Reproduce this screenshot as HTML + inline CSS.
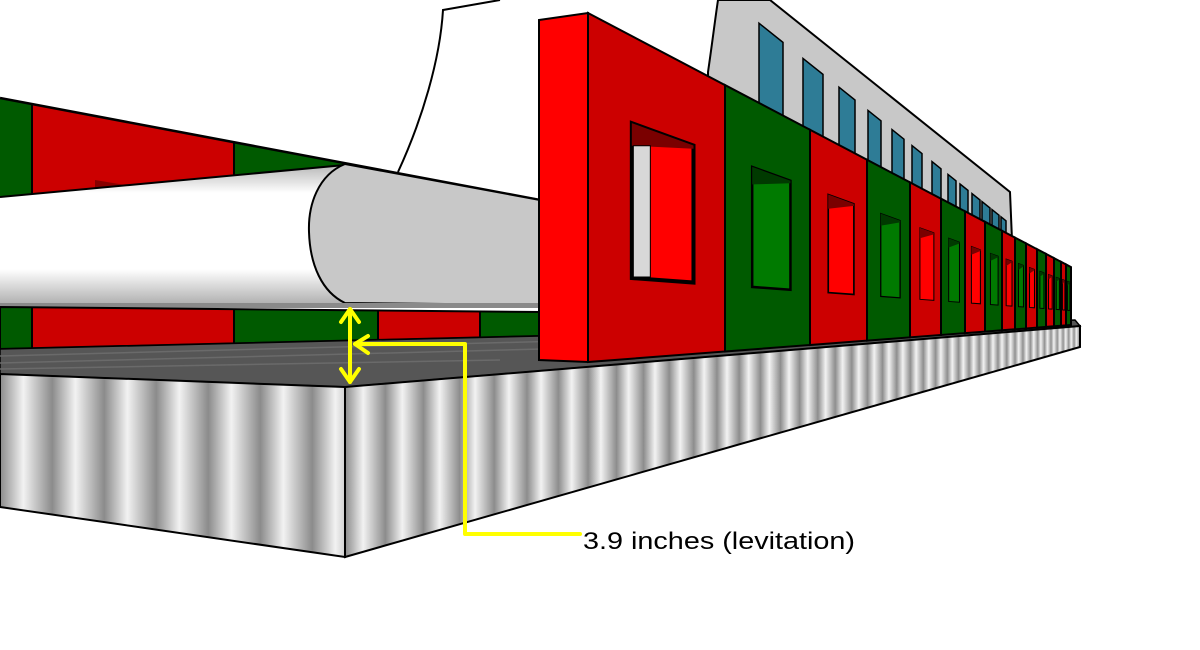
<!DOCTYPE html>
<html><head><meta charset="utf-8">
<style>html,body{margin:0;padding:0;background:#fff;width:1200px;height:650px;overflow:hidden}</style>
</head><body>
<svg id="s" xmlns="http://www.w3.org/2000/svg" width="1200" height="650" viewBox="0 0 1200 650">
<defs>
<linearGradient id="rib" x1="0" y1="0" x2="1" y2="0">
<stop offset="0" stop-color="#8a8a8a"/><stop offset="0.45" stop-color="#f2f2f2"/><stop offset="1" stop-color="#8c8c8c"/>
</linearGradient>
<pattern id="ribL" patternUnits="userSpaceOnUse" width="52" height="10"><rect width="52" height="10" fill="url(#rib)"/></pattern>
<linearGradient id="body" x1="0" y1="0" x2="0" y2="1">
<stop offset="0" stop-color="#b8b8b8"/><stop offset="0.2" stop-color="#fff"/><stop offset="0.75" stop-color="#fff"/><stop offset="1" stop-color="#b0b0b0"/>
</linearGradient>
<clipPath id="cR"><polygon points="345,387 1080,326 1080,347 345,557"/></clipPath>
<clipPath id="cU"><polygon points="0,98 344,163 344,165 0,197"/></clipPath>
<clipPath id="cLo"><polygon points="0,307 540,312 540,336 0,349"/></clipPath>
</defs>
<rect width="1200" height="650" fill="#fff"/>
<path d="M708,72 C712,45 715,20 718,0 L770,0 L1010,192 L1012,240 L708,240 Z" fill="#c8c8c8" stroke="#000" stroke-width="2"/>
<g id="bw" fill="#2e7c96" stroke="#000" stroke-width="1.5"></g>
<path d="M398,172 C422,120 440,60 443,10 L500,0" fill="none" stroke="#000" stroke-width="2"/>
<g clip-path="url(#cU)">
<rect x="0" y="90" width="32" height="120" fill="#005a00"/>
<rect x="32" y="90" width="202" height="120" fill="#cc0000"/>
<rect x="234" y="90" width="112" height="120" fill="#005a00"/>
<line x1="32" y1="90" x2="32" y2="210" stroke="#000" stroke-width="2"/>
<line x1="234" y1="90" x2="234" y2="210" stroke="#000" stroke-width="2"/>
<polygon points="95,180 125,185 95,190" fill="#800"/>
</g>
<line x1="0" y1="98" x2="540" y2="200" stroke="#000" stroke-width="2.5"/>
<polygon points="0,197 345,165 345,304 0,304" fill="url(#body)"/>
<line x1="0" y1="197" x2="345" y2="165" stroke="#000" stroke-width="2"/>
<path d="M345,164 C318,175 308,205 309,232 C310,265 322,292 345,303 L540,305 L540,200 Z" fill="#c8c8c8" stroke="#000" stroke-width="2"/>
<rect x="0" y="303" width="540" height="5" fill="#8a8a8a"/>
<g clip-path="url(#cLo)">
<rect x="0" y="300" width="32" height="60" fill="#005a00"/>
<rect x="32" y="300" width="202" height="60" fill="#cc0000"/>
<rect x="234" y="300" width="144" height="60" fill="#005a00"/>
<rect x="378" y="300" width="102" height="60" fill="#cc0000"/>
<rect x="480" y="300" width="60" height="60" fill="#005a00"/>
<g stroke="#000" stroke-width="2"><line x1="32" y1="300" x2="32" y2="360"/><line x1="234" y1="300" x2="234" y2="360"/><line x1="378" y1="300" x2="378" y2="360"/><line x1="480" y1="300" x2="480" y2="360"/></g>
</g>
<polygon points="0,307 540,312 540,336 0,349" fill="none" stroke="#000" stroke-width="2"/>
<polygon points="0,349 540,336 1075,320 1080,326 345,387 0,374" fill="#565656" stroke="#000" stroke-width="1.5"/>
<g stroke="#6a6a6a" stroke-width="1.5"><line x1="0" y1="356" x2="900" y2="332"/><line x1="0" y1="363" x2="700" y2="345"/><line x1="0" y1="369" x2="500" y2="360"/></g>
<polygon points="0,374 345,387 345,557 0,507" fill="url(#ribL)" stroke="#000" stroke-width="2"/>
<g id="ribs" clip-path="url(#cR)"></g>
<polygon points="345,387 1080,326 1080,347 345,557" fill="none" stroke="#000" stroke-width="2"/>
<polygon points="539,20 588,13 588,362 539,360" fill="#ff0000" stroke="#000" stroke-width="2"/>
<g id="pil"></g>
<g stroke="#ffff00" stroke-width="4" fill="none" stroke-linecap="round" stroke-linejoin="round">
<line x1="350" y1="309" x2="350" y2="382"/>
<polyline points="341,322 350,309 359,322"/>
<polyline points="341,369 350,382 359,369"/>
<polyline points="355,344 465,344 465,534 580,534"/>
<polyline points="368,336 355,344 368,353"/>
</g>
<text x="583" y="549" font-family="Liberation Sans, sans-serif" font-size="24" textLength="272" lengthAdjust="spacingAndGlyphs" fill="#000">3.9 inches (levitation)</text>
</svg>
<script>
(function(){
var NS="http://www.w3.org/2000/svg";
function el(p,t,a){var e=document.createElementNS(NS,t);for(var k in a)e.setAttribute(k,a[k]);p.appendChild(e);return e;}
var bw=document.getElementById('bw');
var wins=[[759,783],[803,823],[839,855],[868,881],[892,904],[912,922],[932,941],[948,956],[960,968],[972,980],[982,990],[992,999],[1001,1006]];
function wyt(x){return (x-770)*192/240+32;}
wins.forEach(function(w){
el(bw,'polygon',{points:w[0]+','+wyt(w[0])+' '+w[1]+','+wyt(w[1])+' '+w[1]+',240 '+w[0]+',240'});});
var rg=document.getElementById('ribs');var x=345;
while(x<1082){var p=Math.max(4,40*(1-(x-345)/735*0.88));el(rg,'rect',{x:x,y:300,width:p+0.5,height:270,fill:'url(#rib)'});x+=p;}
var pg=document.getElementById('pil');
var ptop=function(x){return 13+0.526*(x-588);};
var pbot=function(x){return 362-0.0766*(x-588);};
var yy=function(x,f){return ptop(x)+f*(pbot(x)-ptop(x));};
var b=[588,725,810,867,910,941,965,985,1002,1015,1026,1037,1046,1054,1061,1066,1071];
for(var i=0;i<b.length-1;i++){var L=b[i],R=b[i+1],red=(i%2==0);
var sw=Math.max(1,2.5*(R-L)/85);
el(pg,'polygon',{points:L+','+ptop(L)+' '+R+','+ptop(R)+' '+R+','+pbot(R)+' '+L+','+pbot(L),fill:red?'#cc0000':'#005a00',stroke:'#000','stroke-width':2});
var w=R-L,x1=L+0.32*w,x2=L+0.77*w;
el(pg,'polygon',{points:x1+','+yy(x1,.27)+' '+x2+','+yy(x2,.27)+' '+x2+','+yy(x2,.75)+' '+x1+','+yy(x1,.75),fill:red?'#ff0000':'#007a00',stroke:'#000','stroke-width':sw});
var h1=pbot(x1)-ptop(x1);
el(pg,'polygon',{points:x1+','+yy(x1,.27)+' '+x2+','+yy(x2,.27)+' '+x2+','+(yy(x2,.27)+0.01*h1)+' '+x1+','+(yy(x1,.27)+0.07*h1),fill:red?'#7a0000':'#003a00'});
if(i==0){var xm=x1+0.3*(x2-x1);
el(pg,'polygon',{points:(x1+1.5)+','+(yy(x1,.27)+0.07*h1)+' '+xm+','+(yy(x1,.27)+0.07*h1)+' '+xm+','+(yy(x1,.75)-1)+' '+(x1+1.5)+','+(yy(x1,.75)-1),fill:'#d8d8d8',stroke:'#000','stroke-width':1});}
}
})();
</script>
</body></html>
